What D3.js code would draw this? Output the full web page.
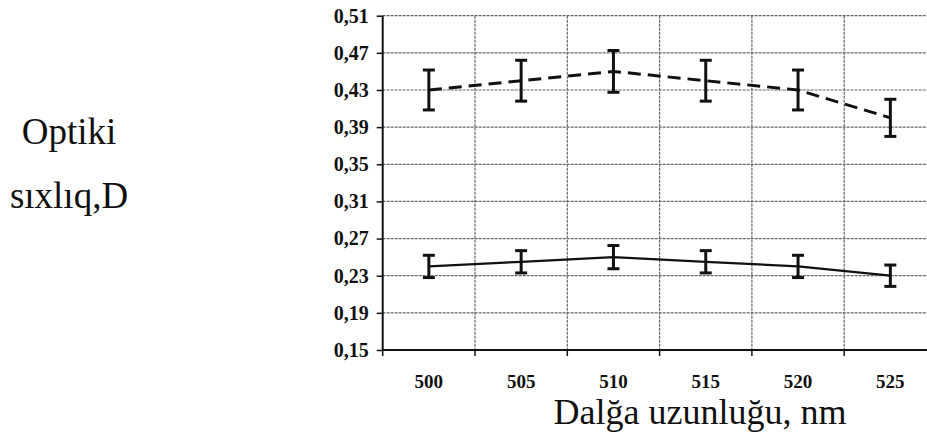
<!DOCTYPE html>
<html>
<head>
<meta charset="utf-8">
<script src="https://cdn.jsdelivr.net/npm/d3@7"></script>
<style>
  body { margin: 0; background: #fff; }
  svg { display: block; }
  .serif { font-family: "Liberation Serif", "DejaVu Serif", Times, serif; }
</style>
</head>
<body>
<div id="chart"></div>
<script>
// data
var wavelengths = ["500", "505", "510", "515", "520", "525"];
var upperValues = [0.43, 0.44, 0.45, 0.44, 0.43, 0.40];
var upperErrors = [0.0215, 0.022, 0.0225, 0.022, 0.0215, 0.02];
var lowerValues = [0.24, 0.245, 0.25, 0.245, 0.24, 0.23];
var lowerErrors = [0.012, 0.012, 0.0125, 0.012, 0.012, 0.0115];
var yTicks = [0.15, 0.19, 0.23, 0.27, 0.31, 0.35, 0.39, 0.43, 0.47, 0.51];

var W = 927, H = 432;
var margin = { top: 15.7, left: 382.7 },
    plotW = 553.8,
    plotH = 334.3;

var svg = d3.select("#chart")
    .append("svg")
    .attr("width", W)
    .attr("height", H);

var g = svg.append("g")
    .attr("transform", "translate(" + margin.left + "," + margin.top + ")");

var x = d3.scaleBand()
    .domain(wavelengths)
    .range([0, plotW]);

var y = d3.scaleLinear()
    .domain([0.15, 0.51])
    .range([plotH, 0]);

var fmt = function (d) { return d3.format(".2f")(d).replace(".", ","); };

// horizontal grid
g.append("g")
    .selectAll("line")
    .data(yTicks.slice(1))
    .enter()
    .append("line")
    .attr("x1", 0)
    .attr("x2", plotW)
    .attr("y1", function (d) { return y(d); })
    .attr("y2", function (d) { return y(d); })
    .attr("stroke", "#666")
    .attr("stroke-width", 1.2)
    .attr("stroke-dasharray", "3,1");

// vertical grid at band edges
var edges = wavelengths.slice(1).map(function (d) { return x(d); });
g.append("g")
    .selectAll("line")
    .data(edges)
    .enter()
    .append("line")
    .attr("x1", function (d) { return d; })
    .attr("x2", function (d) { return d; })
    .attr("y1", 0)
    .attr("y2", plotH)
    .attr("stroke", "#666")
    .attr("stroke-width", 1.2)
    .attr("stroke-dasharray", "3,1");

// Y axis
var yAxis = g.append("g")
    .call(d3.axisLeft(y).tickValues(yTicks).tickFormat(fmt).tickSize(6).tickPadding(8));
yAxis.attr("font-family", null).attr("font-size", null);
yAxis.select(".domain").attr("stroke", "#111").attr("stroke-width", 2).attr("d", "M0," + plotH + "V0");
yAxis.selectAll(".tick line").attr("stroke", "#111").attr("stroke-width", 1.5);
yAxis.selectAll("text")
    .attr("class", "serif")
    .attr("font-weight", "bold")
    .attr("font-size", "20px")
    .attr("fill", "#111");

// X axis: line with ticks at band edges, labels at centers
var xAxis = g.append("g")
    .attr("transform", "translate(0," + plotH + ")");
xAxis.append("line")
    .attr("x1", 0).attr("x2", plotW)
    .attr("stroke", "#111").attr("stroke-width", 2);
xAxis.selectAll("line.tk")
    .data([0].concat(edges))
    .enter()
    .append("line")
    .attr("class", "tk")
    .attr("x1", function (d) { return d; })
    .attr("x2", function (d) { return d; })
    .attr("y1", 0).attr("y2", 6)
    .attr("stroke", "#111").attr("stroke-width", 1.5);
xAxis.selectAll("text")
    .data(wavelengths)
    .enter()
    .append("text")
    .attr("class", "serif")
    .attr("x", function (d) { return x(d) + x.bandwidth() / 2; })
    .attr("y", 37.5)
    .attr("text-anchor", "middle")
    .attr("font-weight", "bold")
    .attr("font-size", "19px")
    .attr("fill", "#111")
    .text(function (d) { return d; });

// series
var cx = function (d, i) { return x(wavelengths[i]) + x.bandwidth() / 2; };

function drawSeries(values, errors, dash, lw) {
    g.append("path")
        .datum(values)
        .attr("fill", "none")
        .attr("stroke", "#111")
        .attr("stroke-width", lw)
        .attr("stroke-dasharray", dash)
        .attr("d", d3.line()
            .x(cx)
            .y(function (d) { return y(d); }));

    var eb = g.append("g")
        .selectAll("g")
        .data(values)
        .enter()
        .append("g")
        .attr("stroke", "#111")
        .attr("stroke-width", 3);
    eb.append("line")
        .attr("x1", cx).attr("x2", cx)
        .attr("y1", function (d, i) { return y(d + errors[i]); })
        .attr("y2", function (d, i) { return y(d - errors[i]); });
    eb.append("line")
        .attr("x1", function (d, i) { return cx(d, i) - 6; })
        .attr("x2", function (d, i) { return cx(d, i) + 6; })
        .attr("y1", function (d, i) { return y(d + errors[i]); })
        .attr("y2", function (d, i) { return y(d + errors[i]); });
    eb.append("line")
        .attr("x1", function (d, i) { return cx(d, i) - 6; })
        .attr("x2", function (d, i) { return cx(d, i) + 6; })
        .attr("y1", function (d, i) { return y(d - errors[i]); })
        .attr("y2", function (d, i) { return y(d - errors[i]); });
}

drawSeries(upperValues, upperErrors, "13,7", 3);
drawSeries(lowerValues, lowerErrors, null, 2.2);

// titles
svg.append("text")
    .attr("class", "serif")
    .attr("x", 700)
    .attr("y", 424)
    .attr("text-anchor", "middle")
    .attr("font-size", "36px")
    .attr("fill", "#111")
    .text("Dalğa uzunluğu, nm");

var yTitle = svg.append("text")
    .attr("class", "serif")
    .attr("text-anchor", "middle")
    .attr("font-size", "37px")
    .attr("fill", "#111");
yTitle.append("tspan").attr("x", 69).attr("y", 144).text("Optiki");
yTitle.append("tspan").attr("x", 69).attr("y", 208).text("sıxlıq,D");
</script>
</body>
</html>
